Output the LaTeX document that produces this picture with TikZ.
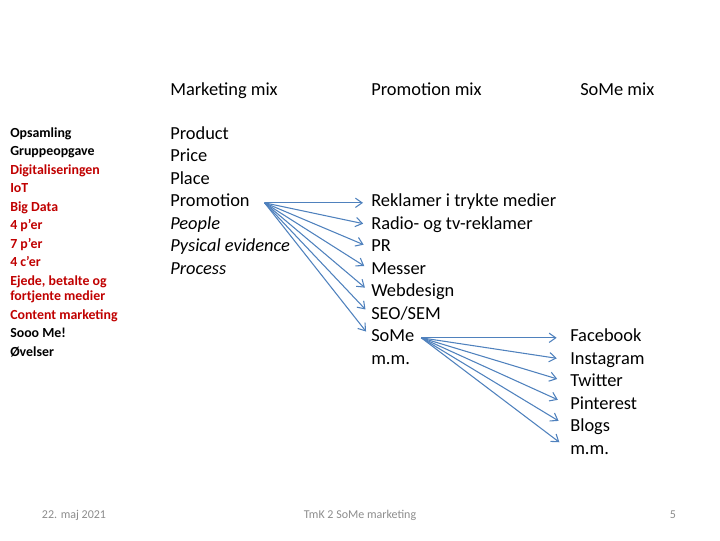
\documentclass[tikz,border=0pt]{standalone}
\usepackage{fontspec}
\setmainfont{Carlito}
\usepackage{xcolor}
\usepackage{tikz}
\usetikzlibrary{arrows.meta}
\definecolor{arrowblue}{RGB}{79,129,189}
\definecolor{menured}{RGB}{192,0,0}
\definecolor{footgray}{RGB}{140,140,140}
\tikzstyle{mix} = [anchor=base west,inner sep=0pt,text height=9pt,text depth=3pt,font=\fontsize{13.8}{16}\selectfont]
\tikzstyle{menu} = [anchor=base west,inner sep=0pt,font=\fontsize{10.4}{12}\selectfont\bfseries]
\tikzstyle{foot} = [anchor=base,inner sep=0pt,text=footgray,font=\fontsize{9}{11}\selectfont]
\tikzstyle{line} = [-{Straight Barb[length=5pt,width=7pt]},color=arrowblue,line width=0.8pt]

\begin{document}
\begin{tikzpicture}[x=0.75pt,y=-0.75pt]
        \useasboundingbox (0,0) rectangle (720,540);
        % agenda
        \node[menu] (opsam) at (10,137.5) {Opsamling};
        \node[menu] (grp) at (10,155.5) {Gruppeopgave};
        \node[menu,text=menured] (digi) at (10,174.5) {Digitaliseringen};
        \node[menu,text=menured] (iot) at (10,192.5) {IoT};
        \node[menu,text=menured] (bigd) at (10,211.5) {Big Data};
        \node[menu,text=menured] (fourp) at (10,229.5) {4 p’er};
        \node[menu,text=menured] (sevenp) at (10,248.5) {7 p’er};
        \node[menu,text=menured] (fourc) at (10,266.5) {4 c’er};
        \node[menu,text=menured] (ejede) at (10,285.5) {Ejede, betalte og};
        \node[menu,text=menured] (fortj) at (10,300.5) {fortjente medier};
        \node[menu,text=menured] (cont) at (10,319) {Content marketing};
        \node[menu] (sooo) at (10,337.5) {Sooo Me!};
        \node[menu] (ovel) at (10,356) {Øvelser};
        % headings
        \node[mix] (mmix) at (170,95) {Marketing mix};
        \node[mix] (pmix) at (371,95) {Promotion mix};
        \node[mix] (smix) at (580,95) {SoMe mix};
        % marketing mix
        \node[mix] (prod) at (170,139.3) {Product};
        \node[mix] (price) at (170,161.8) {Price};
        \node[mix] (place) at (170,184.3) {Place};
        \node[mix] (prom) at (170,206.8) {Promotion};
        \node[mix] (peop) at (170,229.3) {\textit{People}};
        \node[mix] (pysi) at (170,251.8) {\textit{Pysical evidence}};
        \node[mix] (proc) at (170,274.3) {\textit{Process}};
        % promotion mix
        \node[mix] (rekl) at (371,206.8) {Reklamer i trykte medier};
        \node[mix] (radio) at (371,229.3) {Radio- og tv-reklamer};
        \node[mix] (pr) at (371,251.8) {PR};
        \node[mix] (mess) at (371,274.3) {Messer};
        \node[mix] (webd) at (371,296.8) {Webdesign};
        \node[mix] (seo) at (371,319.3) {SEO/SEM};
        \node[mix] (some) at (371,341.8) {SoMe};
        \node[mix] (mmA) at (371,364.3) {m.m.};
        % some mix
        \node[mix] (fb) at (570,341.8) {Facebook};
        \node[mix] (insta) at (570,364.3) {Instagram};
        \node[mix] (twit) at (570,386.8) {Twitter};
        \node[mix] (pint) at (570,409.3) {Pinterest};
        \node[mix] (blog) at (570,431.8) {Blogs};
        \node[mix] (mmB) at (570,454.3) {m.m.};
        % arrows
        \coordinate (promout) at ([xshift=11pt]prom.east);
        \coordinate (someout) at ([xshift=5pt]some.east);
        \path[line,shorten >=6pt] (promout) edge (rekl.west) edge (radio.west) edge (pr.west)
        edge (mess.west) edge (webd.west) edge (seo.west) edge (some.west);
        \path[line,shorten >=10pt] (someout) edge (fb.west) edge (insta.west) edge (twit.west)
        edge (pint.west) edge (blog.west) edge (mmB.west);
        % footer
        \node[foot] (date) at (74,518.5) {22. maj 2021};
        \node[foot] (title) at (360,518.5) {TmK 2 SoMe marketing};
        \node[foot] (page) at (673,518.5) {5};
    \end{tikzpicture}
\end{document}
